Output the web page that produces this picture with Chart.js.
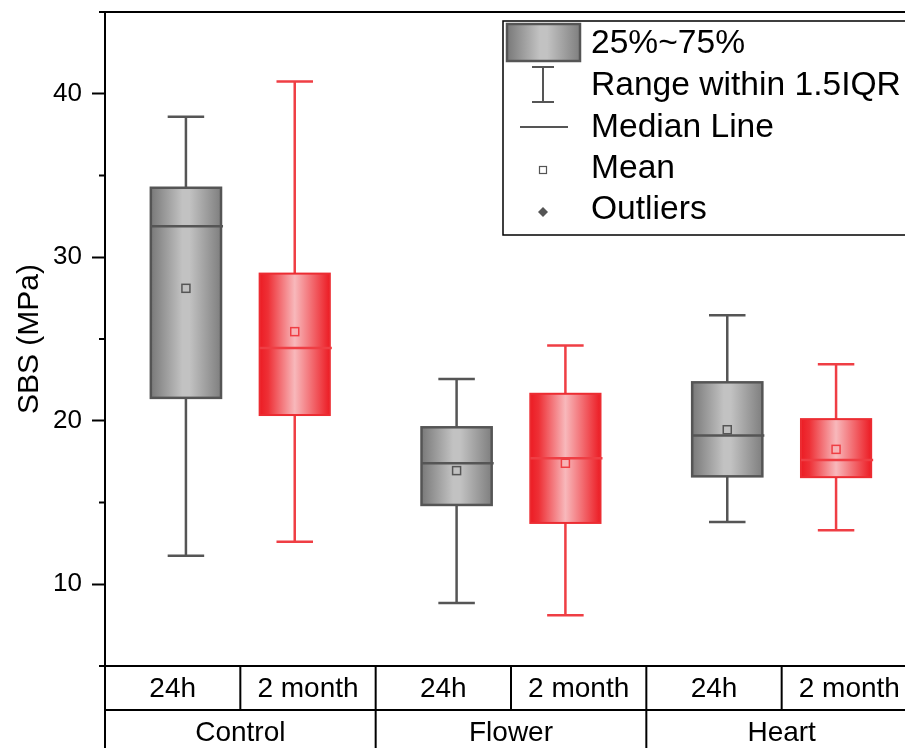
<!DOCTYPE html>
<html>
<head>
<meta charset="utf-8">
<script src="https://cdn.jsdelivr.net/npm/chart.js@4.4.1/dist/chart.umd.min.js"></script>
<style>
    html, body { margin: 0; padding: 0; background: #fff; overflow: hidden; }
    #wrap { width: 905px; height: 748px; overflow: hidden; }
</style>
</head>
<body>
<div id="wrap"><canvas id="boxChart" width="940" height="748"></canvas></div>
<script>
// ===== Data =====
const groups = ['Control', 'Flower', 'Heart'];
const times = ['24h', '2 month'];
const yTicks = [10, 20, 30, 40];
const yMinorTicks = [15, 25, 35];

// 24h
const q1_24h = [21.4, 14.85, 16.6];
const q3_24h = [34.25, 19.6, 22.35];
const median_24h = [31.9, 17.4, 19.1];
const mean_24h = [28.1, 16.95, 19.45];
const low_24h = [11.75, 8.85, 13.8];
const high_24h = [38.6, 22.55, 26.45];

// 2 month
const q1_2m = [20.35, 13.75, 16.55];
const q3_2m = [29.0, 21.65, 20.1];
const median_2m = [24.45, 17.7, 17.6];
const mean_2m = [25.45, 17.4, 18.25];
const low_2m = [12.6, 8.1, 13.3];
const high_2m = [40.75, 24.6, 23.45];

const legendLabels = ['25%~75%', 'Range within 1.5IQR', 'Median Line', 'Mean', 'Outliers'];

// ===== Styles =====
const styles = [
    {
        line: '#555555',
        border: '#555555',
        borderWidth: 2.5,
        stops: [[0, '#797979'], [0.45, '#c2c2c2'], [0.55, '#c2c2c2'], [1, '#7f7f7f']],
        meanFill: '#c0c0c0'
    },
    {
        line: '#ef3e44',
        border: '#ec2c32',
        borderWidth: 2,
        stops: [[0, '#ec1c24'], [0.12, '#ee3036'], [0.5, '#f8b8bb'], [0.85, '#f04a50'], [1, '#ec1c24']],
        meanFill: '#f7b3b6'
    }
];

const boxStats = [
    { q1: q1_24h, q3: q3_24h, median: median_24h, mean: mean_24h, low: low_24h, high: high_24h },
    { q1: q1_2m, q3: q3_2m, median: median_2m, mean: mean_2m, low: low_2m, high: high_2m }
];

const FONT = '"Liberation Sans", Arial, sans-serif';
Chart.defaults.font.family = FONT;

function gradientFor(ctx, left, right, stops) {
    const g = ctx.createLinearGradient(left, 0, right, 0);
    stops.forEach(s => g.addColorStop(s[0], s[1]));
    return g;
}

// ===== Box plot drawing =====
const boxPlugin = {
    id: 'boxPlugin',
    afterDatasetsDraw(chart) {
        const ctx = chart.ctx;
        const yScale = chart.scales.y;
        chart.data.datasets.forEach((ds, di) => {
            const st = styles[di];
            const stats = boxStats[di];
            chart.getDatasetMeta(di).data.forEach((bar, i) => {
                const p = bar.getProps(['x', 'y', 'base', 'width'], true);
                const left = p.x - p.width / 2;
                const right = p.x + p.width / 2;
                const top = Math.min(p.y, p.base);
                const bottom = Math.max(p.y, p.base);
                const yHigh = yScale.getPixelForValue(stats.high[i]);
                const yLow = yScale.getPixelForValue(stats.low[i]);
                const yMed = yScale.getPixelForValue(stats.median[i]);
                const yMean = yScale.getPixelForValue(stats.mean[i]);
                const cap = p.width * 0.26;

                ctx.save();
                // whiskers
                ctx.strokeStyle = st.line;
                ctx.lineWidth = 2.5;
                ctx.beginPath();
                ctx.moveTo(p.x, top); ctx.lineTo(p.x, yHigh);
                ctx.moveTo(p.x - cap, yHigh); ctx.lineTo(p.x + cap, yHigh);
                ctx.moveTo(p.x, bottom); ctx.lineTo(p.x, yLow);
                ctx.moveTo(p.x - cap, yLow); ctx.lineTo(p.x + cap, yLow);
                ctx.stroke();

                // box
                ctx.fillStyle = gradientFor(ctx, left, right, st.stops);
                ctx.fillRect(left, top, p.width, bottom - top);
                ctx.strokeStyle = st.border;
                ctx.lineWidth = st.borderWidth;
                ctx.strokeRect(left, top, p.width, bottom - top);

                // median
                ctx.strokeStyle = st.line;
                ctx.lineWidth = 2.5;
                ctx.beginPath();
                ctx.moveTo(left, yMed); ctx.lineTo(right + 2, yMed);
                ctx.stroke();

                // mean
                ctx.fillStyle = st.meanFill;
                ctx.lineWidth = 1.5;
                ctx.fillRect(p.x - 4, yMean - 4, 8, 8);
                ctx.strokeRect(p.x - 4, yMean - 4, 8, 8);
                ctx.restore();
            });
        });
    }
};

// ===== Frame, minor ticks, category table and legend =====
const framePlugin = {
    id: 'framePlugin',
    afterDraw(chart) {
        const ctx = chart.ctx;
        const area = chart.chartArea;
        const yScale = chart.scales.y;
        const xScale = chart.scales.x;
        const groupW = (area.right - area.left) / groups.length;
        const row1 = area.bottom + 44;
        const row2 = chart.height + 2;

        ctx.save();
        ctx.strokeStyle = '#000';
        ctx.lineWidth = 2;

        // minor ticks
        ctx.beginPath();
        yMinorTicks.forEach(v => {
            const py = yScale.getPixelForValue(v);
            ctx.moveTo(area.left - 6, py);
            ctx.lineTo(area.left, py);
        });
        // top, right, bottom of frame
        ctx.moveTo(area.left - 6, area.top); ctx.lineTo(area.right, area.top);
        ctx.lineTo(area.right, area.bottom);
        ctx.moveTo(area.left - 6, area.bottom); ctx.lineTo(area.right, area.bottom);
        // table
        ctx.moveTo(area.left, area.bottom); ctx.lineTo(area.left, row2);
        ctx.moveTo(area.left, row1); ctx.lineTo(area.right, row1);
        groups.forEach((g, gi) => {
            const gx = xScale.getPixelForValue(gi);
            ctx.moveTo(gx, area.bottom); ctx.lineTo(gx, row1);
            const gr = gx + groupW / 2;
            ctx.moveTo(gr, area.bottom); ctx.lineTo(gr, row2);
        });
        ctx.stroke();

        ctx.fillStyle = '#000';
        ctx.textAlign = 'center';
        ctx.textBaseline = 'alphabetic';
        ctx.font = '28px ' + FONT;
        groups.forEach((g, gi) => {
            const gx = xScale.getPixelForValue(gi);
            times.forEach((t, ti) => {
                const cx = gx + (ti === 0 ? -groupW / 4 : groupW / 4);
                ctx.fillText(t, cx, area.bottom + 31);
            });
            ctx.fillText(g, gx, row1 + 31);
        });

        // legend
        const lx = 503, ly = 21, lb = 235;
        ctx.lineWidth = 1.5;
        ctx.strokeRect(lx, ly, 500, lb - ly);

        const sx = 543;
        const gray = styles[0];
        ctx.fillStyle = gradientFor(ctx, 507, 580, gray.stops);
        ctx.fillRect(507, 24, 73, 37);
        ctx.strokeStyle = gray.border;
        ctx.lineWidth = 2.5;
        ctx.strokeRect(507, 24, 73, 37);

        ctx.lineWidth = 2;
        ctx.beginPath();
        ctx.moveTo(sx, 67); ctx.lineTo(sx, 102);
        ctx.moveTo(sx - 11, 67); ctx.lineTo(sx + 11, 67);
        ctx.moveTo(sx - 11, 102); ctx.lineTo(sx + 11, 102);
        ctx.moveTo(520, 127); ctx.lineTo(568, 127);
        ctx.stroke();

        ctx.lineWidth = 1.2;
        ctx.fillStyle = '#fff';
        ctx.fillRect(sx - 3.5, 166.5, 7, 7);
        ctx.strokeRect(sx - 3.5, 166.5, 7, 7);

        ctx.fillStyle = gray.line;
        ctx.beginPath();
        ctx.moveTo(sx, 207); ctx.lineTo(sx + 5, 212); ctx.lineTo(sx, 217); ctx.lineTo(sx - 5, 212);
        ctx.closePath();
        ctx.fill();

        ctx.fillStyle = '#000';
        ctx.textAlign = 'left';
        ctx.font = '33.6px ' + FONT;
        const baselines = [53, 95, 137, 178, 219];
        legendLabels.forEach((t, i) => ctx.fillText(t, 591, baselines[i]));
        ctx.restore();
    }
};

// ===== Chart =====
const ctx = document.getElementById('boxChart').getContext('2d');
new Chart(ctx, {
    type: 'bar',
    data: {
        labels: groups,
        datasets: times.map((t, di) => ({
            label: t,
            data: groups.map((g, i) => [boxStats[di].q1[i], boxStats[di].q3[i]]),
            backgroundColor: 'rgba(0,0,0,0)',
            borderWidth: 0,
            categoryPercentage: 0.804,
            barPercentage: 0.645
        }))
    },
    options: {
        responsive: false,
        animation: false,
        devicePixelRatio: 1,
        layout: { padding: { left: 0, right: 23, top: 12, bottom: 82 } },
        plugins: {
            legend: { display: false },
            tooltip: { enabled: false }
        },
        scales: {
            x: { display: false },
            y: {
                min: 5,
                max: 45,
                afterBuildTicks: s => { s.ticks = yTicks.map(v => ({ value: v })); },
                afterFit: s => { s.width = 105; s.paddingTop = 0; s.paddingBottom = 0; },
                ticks: { color: '#000', font: { size: 26 }, padding: 10 },
                grid: { drawOnChartArea: false, drawTicks: true, tickLength: 13, tickWidth: 2, tickColor: '#000' },
                border: { display: true, color: '#000', width: 2 },
                title: {
                    display: true,
                    text: 'SBS (MPa)',
                    color: '#000',
                    font: { size: 30 },
                    padding: { top: 12, bottom: 0 }
                }
            }
        }
    },
    plugins: [boxPlugin, framePlugin]
});
</script>
</body>
</html>
